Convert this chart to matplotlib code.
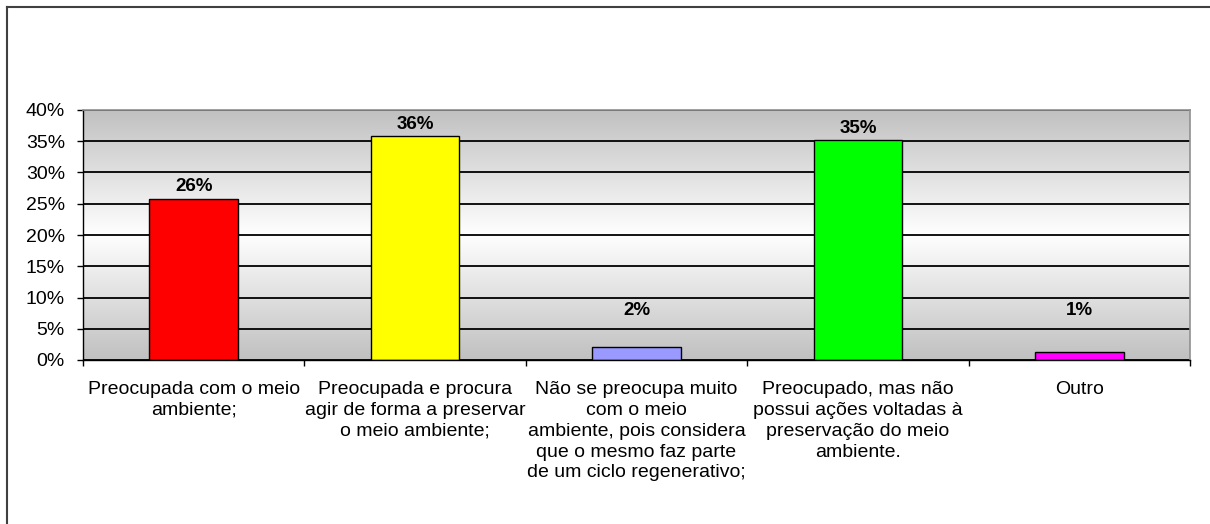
import numpy as np
import matplotlib.pyplot as plt
from matplotlib.colors import LinearSegmentedColormap
from matplotlib.ticker import PercentFormatter, FixedLocator

categories = [
    "Preocupada com o meio\nambiente;",
    "Preocupada e procura\nagir de forma a preservar\no meio ambiente;",
    "Não se preocupa muito\ncom o meio\nambiente, pois considera\nque o mesmo faz parte\nde um ciclo regenerativo;",
    "Preocupado, mas não\npossui ações voltadas à\npreservação do meio\nambiente.",
    "Outro",
]
values = [0.258, 0.358, 0.021, 0.352, 0.013]
colors = ["#ff0000", "#ffff00", "#9999ff", "#00ff00", "#ff00ff"]

plt.rcParams['font.family'] = ['Liberation Sans', 'DejaVu Sans']

fig = plt.figure(figsize=(12.1, 5.24), dpi=100)
ax = fig.add_axes([83 / 1210, 1 - 360 / 524, (1190 - 83) / 1210, 250 / 524])

# outer frame (only top and left edges visible in the crop)
fig.add_artist(plt.Line2D([7 / 1210, 1], [1 - 7 / 524, 1 - 7 / 524],
                          transform=fig.transFigure, color="#404040", lw=1.5))
fig.add_artist(plt.Line2D([7 / 1210, 7 / 1210], [0, 1 - 7 / 524],
                          transform=fig.transFigure, color="#404040", lw=1.5))

# gray -> white -> gray background
cmap = LinearSegmentedColormap.from_list("bg", [(0, "#c0c0c0"), (0.5, "#ffffff"), (1, "#c0c0c0")])
grad = np.linspace(0, 1, 256).reshape(-1, 1)
x = np.arange(len(categories))
ax.imshow(grad, cmap=cmap, aspect="auto", extent=[-0.5, len(categories) - 0.5, 0, 0.40],
          zorder=0, origin="lower")

ax.set_xlim(-0.5, len(categories) - 0.5)
ax.set_ylim(0, 0.40)
ax.set_yticks(np.arange(0, 0.41, 0.05))
ax.yaxis.set_major_formatter(PercentFormatter(1.0, decimals=0))
ax.grid(axis="y", color="black", lw=1.3, zorder=1)

ax.bar(x, values, width=0.4, color=colors, edgecolor="black", linewidth=1, zorder=2)
for xi, v in zip(x, values):
    ax.text(xi, max(v + 0.019, 0.079), f"{v:.0%}", ha="center", va="center",
            fontsize=13.5, fontweight="bold", zorder=3)

ax.set_xticks(x)
ax.set_xticklabels(categories, fontsize=14, linespacing=1.3, va="top")
ax.xaxis.set_minor_locator(FixedLocator(np.arange(-0.5, len(categories), 1)))
ax.tick_params(axis="x", which="major", length=0, pad=15)
ax.tick_params(axis="x", which="minor", length=4, width=1, color="black", direction="out")
ax.tick_params(axis="y", length=4, width=1, pad=9, labelsize=14)

for s in ["top", "right"]:
    ax.spines[s].set_color("#909090")
    ax.spines[s].set_linewidth(1.2)
for s in ["bottom", "left"]:
    ax.spines[s].set_color("black")
    ax.spines[s].set_linewidth(1)

fig.savefig("out.png", dpi=100)
